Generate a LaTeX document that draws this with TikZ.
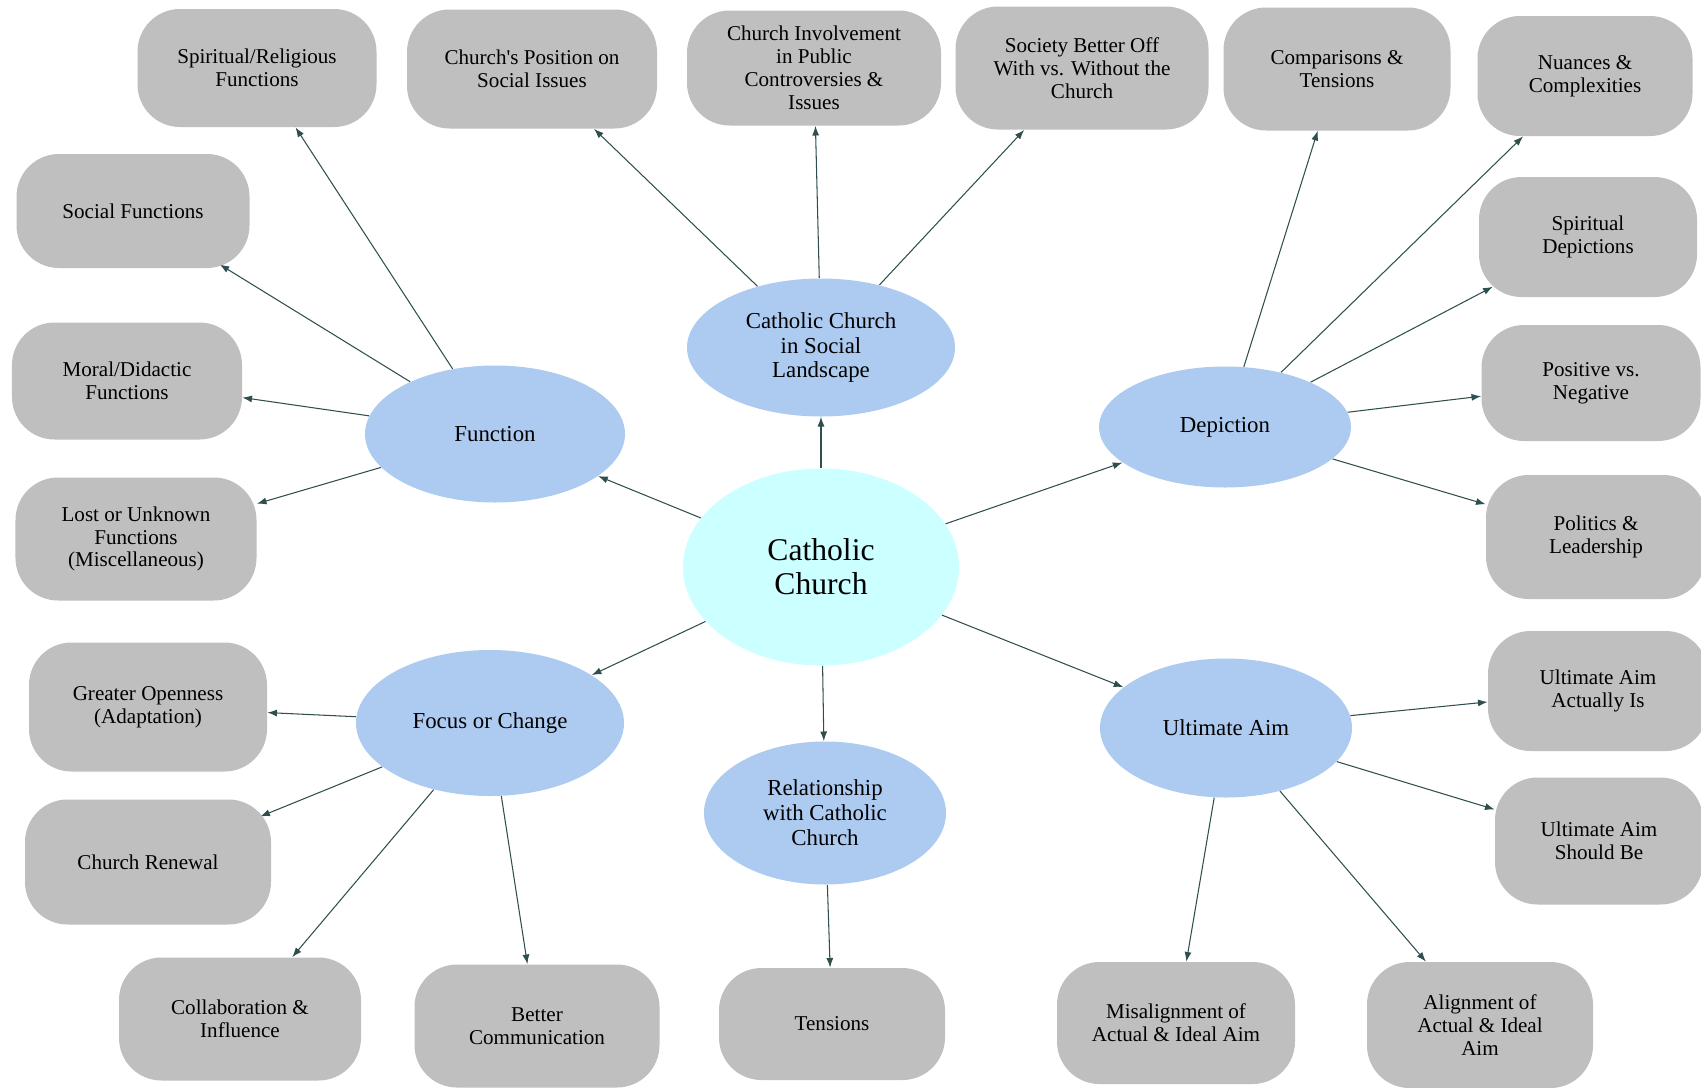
\documentclass[tikz,border=0pt]{standalone}
\usepackage{fontspec}
\setmainfont{Liberation Serif}
\usepackage{tikz}
\usetikzlibrary{shapes.geometric}
\usetikzlibrary{arrows.meta}
\pgfdeclarelayer{edgelayer}
\pgfdeclarelayer{nodelayer}
\pgfsetlayers{edgelayer,nodelayer,main}
\definecolor{hubcyan}{HTML}{CCFFFF}
\definecolor{branchblue}{HTML}{ADCBF0}
\definecolor{leafgray}{HTML}{BFBFBF}
\definecolor{linkslate}{HTML}{2F4F4F}
\tikzstyle{hub}=[ellipse,fill=hubcyan,inner sep=0pt,align=center,font=\fontsize{18}{19.5}\selectfont]
\tikzstyle{branch}=[ellipse,fill=branchblue,inner sep=0pt,align=center,font=\fontsize{13}{14.2}\selectfont]
\tikzstyle{leaf}=[rectangle,rounded corners=0.85cm,fill=leafgray,inner sep=2pt,align=center,font=\fontsize{12}{13}\selectfont]
\tikzstyle{link}=[-{Latex[length=5.5pt,width=4pt]},draw=linkslate,line width=0.6pt]

\begin{document}
\begin{tikzpicture}
	\useasboundingbox (0, 0) rectangle (34.02, -21.76);
	\begin{pgfonlayer}{nodelayer}
		\node [style=hub, minimum width=5.52cm, minimum height=3.94cm] (0) at (16.42, -11.34) {Catholic\\Church};
		\node [style=branch, minimum width=5.36cm, minimum height=2.76cm] (1) at (16.42, -6.95) {Catholic Church\\in Social\\Landscape};
		\node [style=branch, minimum width=5.20cm, minimum height=2.74cm] (2) at (9.90, -8.68) {Function};
		\node [style=branch, minimum width=5.04cm, minimum height=2.42cm] (3) at (24.50, -8.54) {Depiction};
		\node [style=branch, minimum width=5.36cm, minimum height=2.92cm] (4) at (9.80, -14.46) {Focus or Change};
		\node [style=branch, minimum width=4.84cm, minimum height=2.86cm] (5) at (16.50, -16.26) {Relationship\\with Catholic\\Church};
		\node [style=branch, minimum width=5.04cm, minimum height=2.78cm] (6) at (24.52, -14.56) {Ultimate Aim};
		\node [style=leaf, minimum width=4.78cm, minimum height=2.36cm] (7) at (5.14, -1.36) {Spiritual/Religious\\Functions};
		\node [style=leaf, minimum width=5.00cm, minimum height=2.38cm] (8) at (10.64, -1.38) {Church\textquotesingle s Position on\\Social Issues};
		\node [style=leaf, minimum width=5.08cm, minimum height=2.30cm] (9) at (16.28, -1.36) {Church Involvement\\in Public\\Controversies \&\\Issues};
		\node [style=leaf, minimum width=5.06cm, minimum height=2.46cm] (10) at (21.64, -1.36) {Society Better Off\\With vs. Without the\\Church};
		\node [style=leaf, minimum width=4.54cm, minimum height=2.46cm] (11) at (26.74, -1.38) {Comparisons \&\\Tensions};
		\node [style=leaf, minimum width=4.30cm, minimum height=2.40cm] (12) at (31.70, -1.52) {Nuances \&\\Complexities};
		\node [style=leaf, minimum width=4.66cm, minimum height=2.28cm] (13) at (2.66, -4.22) {Social Functions};
		\node [style=leaf, minimum width=4.60cm, minimum height=2.34cm] (14) at (2.54, -7.62) {Moral/Didactic\\Functions};
		\node [style=leaf, minimum width=4.82cm, minimum height=2.46cm] (15) at (2.72, -10.78) {Lost or Unknown\\Functions\\(Miscellaneous)};
		\node [style=leaf, minimum width=4.36cm, minimum height=2.40cm] (16) at (31.76, -4.74) {Spiritual\\Depictions};
		\node [style=leaf, minimum width=4.38cm, minimum height=2.32cm] (17) at (31.82, -7.66) {Positive vs.\\Negative};
		\node [style=leaf, minimum width=4.40cm, minimum height=2.48cm] (18) at (31.92, -10.74) {Politics \&\\Leadership};
		\node [style=leaf, minimum width=4.40cm, minimum height=2.40cm] (19) at (31.96, -13.82) {Ultimate Aim\\Actually Is};
		\node [style=leaf, minimum width=4.16cm, minimum height=2.54cm] (20) at (31.98, -16.82) {Ultimate Aim\\Should Be};
		\node [style=leaf, minimum width=4.76cm, minimum height=2.58cm] (21) at (2.96, -14.14) {Greater Openness\\(Adaptation)};
		\node [style=leaf, minimum width=4.92cm, minimum height=2.50cm] (22) at (2.96, -17.24) {Church Renewal};
		\node [style=leaf, minimum width=4.84cm, minimum height=2.46cm] (23) at (4.80, -20.38) {Collaboration \&\\Influence};
		\node [style=leaf, minimum width=4.90cm, minimum height=2.46cm] (24) at (10.74, -20.52) {Better\\Communication};
		\node [style=leaf, minimum width=4.52cm, minimum height=2.24cm] (25) at (16.64, -20.48) {Tensions};
		\node [style=leaf, minimum width=4.76cm, minimum height=2.44cm] (26) at (23.52, -20.46) {Misalignment of\\Actual \& Ideal Aim};
		\node [style=leaf, minimum width=4.52cm, minimum height=2.52cm] (27) at (29.60, -20.50) {Alignment of\\Actual \& Ideal\\Aim};
	\end{pgfonlayer}
	\begin{pgfonlayer}{edgelayer}
		\draw [style=link] (0) to (1);
		\draw [style=link] (0) to (2);
		\draw [style=link] (0) to (3);
		\draw [style=link] (0) to (4);
		\draw [style=link] (0) to (5);
		\draw [style=link] (0) to (6);
		\draw [style=link] (1) to (8);
		\draw [style=link] (1) to (9);
		\draw [style=link] (1) to (10);
		\draw [style=link] (2) to (7);
		\draw [style=link, shorten >=-0.15cm] (2) to (13);
		\draw [style=link] (2) to (14);
		\draw [style=link] (2) to (15);
		\draw [style=link] (3) to (11);
		\draw [style=link] (3) to (12);
		\draw [style=link, shorten >=-0.32cm] (3) to (16);
		\draw [style=link] (3) to (17);
		\draw [style=link] (3) to (18);
		\draw [style=link] (4) to (21);
		\draw [style=link, shorten >=-0.24cm] (4) to (22);
		\draw [style=link] (4) to (23);
		\draw [style=link] (4) to (24);
		\draw [style=link] (5) to (25);
		\draw [style=link] (6) to (19);
		\draw [style=link] (6) to (20);
		\draw [style=link] (6) to (26);
		\draw [style=link] (6) to (27);
	\end{pgfonlayer}
\end{tikzpicture}
\end{document}
